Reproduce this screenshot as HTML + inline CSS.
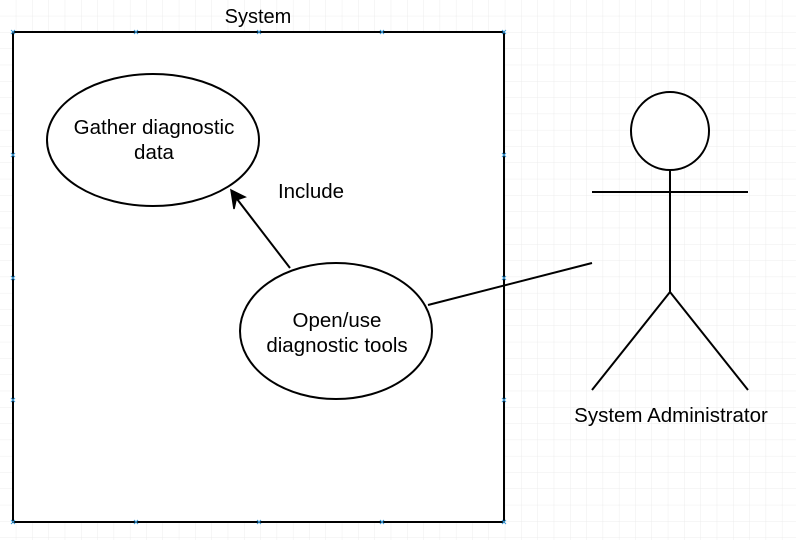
<!DOCTYPE html>
<html><head><style>
html,body{margin:0;padding:0;background:#fff;}
svg{display:block;}
text{font-family:"Liberation Sans",Arial,sans-serif;fill:#000;}
</style></head><body>
<svg width="796" height="540" viewBox="0 0 796 540" xmlns="http://www.w3.org/2000/svg">
<defs>
<pattern id="g" x="0" y="0" width="16.3" height="16.3" patternUnits="userSpaceOnUse">
<path d="M16.3 0V16.3M0 16.3H16.3" stroke="#ececec" stroke-width="1" fill="none"/>
</pattern>
</defs>
<rect width="796" height="540" fill="url(#g)"/>
<rect x="13" y="32" width="491" height="490" fill="#fff" stroke="#000" stroke-width="2"/>
<g stroke="#3a9ad9" stroke-width="1">
<path d="M11 30l4 4M15 30l-4 4M134 30l4 4M138 30l-4 4M257 30l4 4M261 30l-4 4M380 30l4 4M384 30l-4 4M502 30l4 4M506 30l-4 4"/>
<path d="M11 520l4 4M15 520l-4 4M134 520l4 4M138 520l-4 4M257 520l4 4M261 520l-4 4M380 520l4 4M384 520l-4 4M502 520l4 4M506 520l-4 4"/>
<path d="M11 153l4 4M15 153l-4 4M11 276l4 4M15 276l-4 4M11 398l4 4M15 398l-4 4M502 153l4 4M506 153l-4 4M502 276l4 4M506 276l-4 4M502 398l4 4M506 398l-4 4"/>
</g>
<text x="258" y="23" font-size="20" text-anchor="middle">System</text>
<ellipse cx="153" cy="140" rx="106" ry="66" fill="#fff" stroke="#000" stroke-width="2"/>
<text x="154" y="134" font-size="20.5" text-anchor="middle">Gather diagnostic</text>
<text x="154" y="159" font-size="20.5" text-anchor="middle">data</text>
<ellipse cx="336" cy="331" rx="96" ry="68" fill="#fff" stroke="#000" stroke-width="2"/>
<text x="337" y="327" font-size="20.5" text-anchor="middle">Open/use</text>
<text x="337" y="352" font-size="20.5" text-anchor="middle">diagnostic tools</text>
<line x1="290" y1="268" x2="237" y2="199" stroke="#000" stroke-width="2"/>
<path d="M231 190 L245 197 L236 200 L234 209 Z" fill="#000" stroke="#000" stroke-width="1.5"/>
<text x="311" y="198" font-size="20.5" text-anchor="middle">Include</text>
<line x1="428" y1="305" x2="592" y2="263" stroke="#000" stroke-width="2"/>
<circle cx="670" cy="131" r="39" fill="#fff" stroke="#000" stroke-width="2"/>
<path d="M670 170V292M592 192H748M670 292L592 390M670 292L748 390" stroke="#000" stroke-width="2" fill="none"/>
<text x="671" y="422" font-size="20.5" text-anchor="middle">System Administrator</text>
</svg>
</body></html>
